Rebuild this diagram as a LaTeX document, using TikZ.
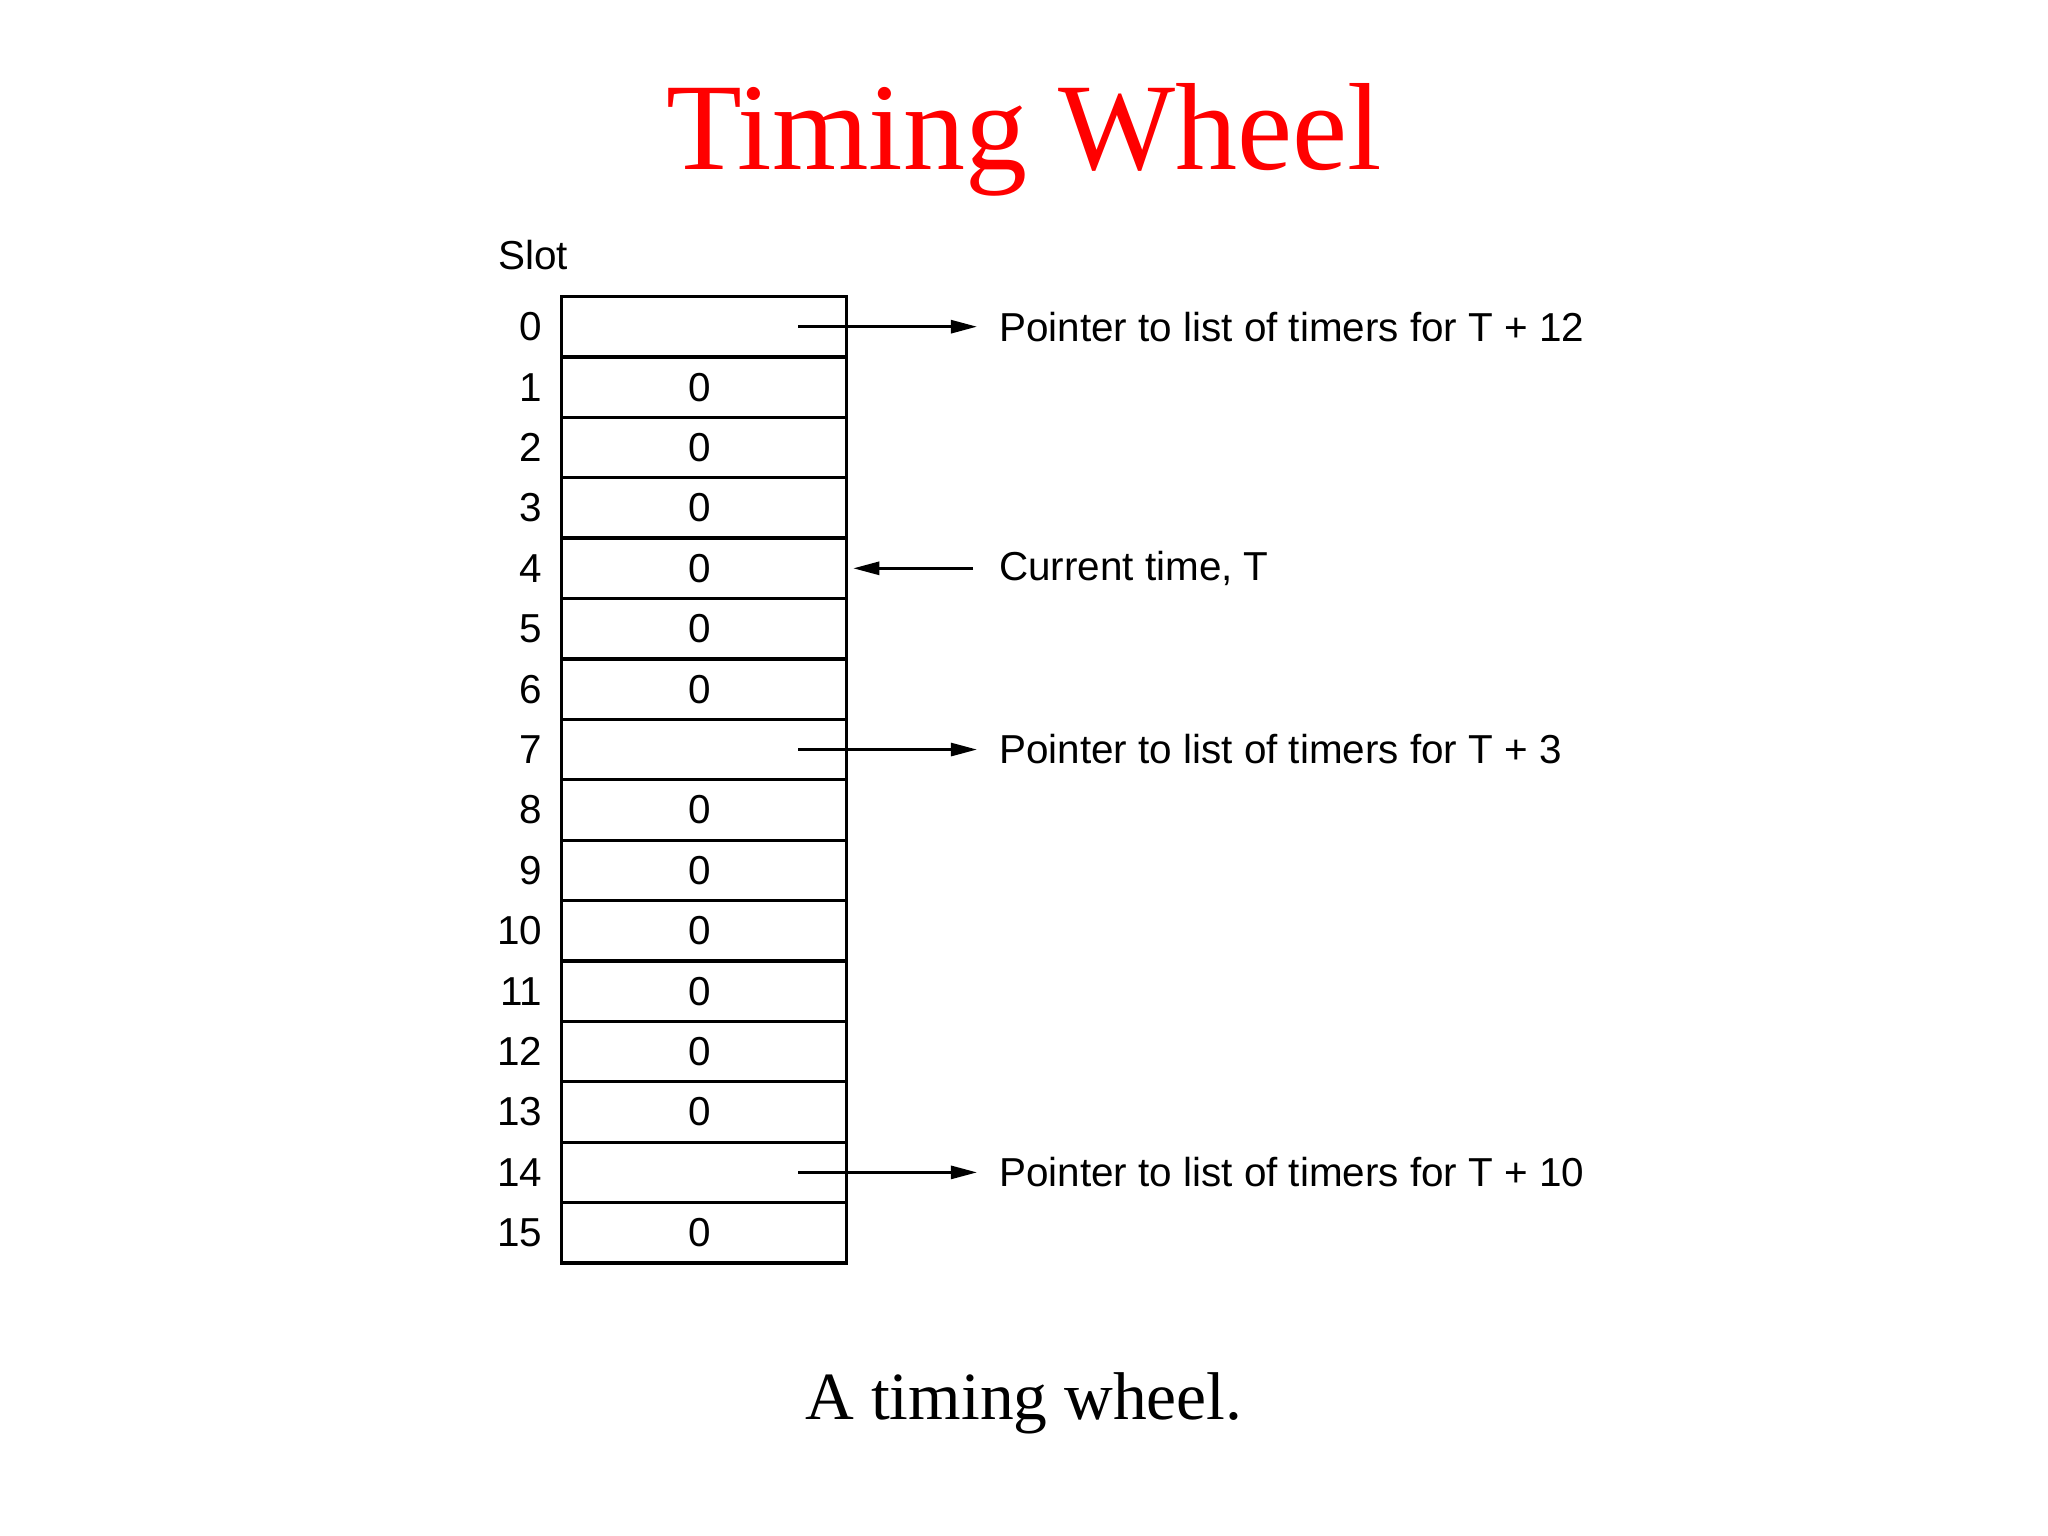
\documentclass[tikz,border=0pt]{standalone}
\usepackage{fontspec}
\setmainfont{Liberation Serif}
\newfontfamily\figfont{Liberation Sans}
\usetikzlibrary{arrows.meta}
\begin{document}
\begin{tikzpicture}[x=0.01cm, y=-0.01cm,
    cell/.style={draw, line width=0.7pt, minimum width=2.18cm, minimum height=0.4625cm, inner sep=0},
    num/.style={inner sep=0, font=\figfont\fontsize{8.8}{10}\selectfont},
    note/.style={inner sep=0, outer sep=0.17cm, anchor=west, font=\figfont\fontsize{8.8}{10}\selectfont},
    ptr/.style={line width=0.6pt, -{Triangle[length=0.2cm, width=0.1cm]}}]
    \useasboundingbox (0,0) rectangle (1568,1176);
    % Title and caption
    \node[text=red, anchor=base, inner sep=0, font=\fontsize{27}{30}\selectfont] (title) at (784,130) {Timing Wheel};
    \node[anchor=base, inner sep=0, font=\fontsize{14.7}{17}\selectfont] (caption) at (784,1087) {A timing wheel.};
    % Slots
    \node[num, anchor=base west] (slot) at (381,206) {Slot};
    \foreach \i in {0,...,15} {
        \node[cell] (c\i) at (539, 250.125+46.25*\i) {};
        \node[num, anchor=east] (s\i) at (416, 250.125+46.25*\i) {\i};
    }
    \foreach \i in {1,2,3,4,5,6,8,9,10,11,12,13,15}
        \node[num] (v\i) at ([xshift=-0.03cm]c\i.center) {0};
    % Pointers
    \node[note] (p0) at (748, 250.125) {Pointer to list of timers for T + 12};
    \node[note] (now) at (748, 435.125) {Current time, T};
    \node[note] (p7) at (748, 573.875) {Pointer to list of timers for T + 3};
    \node[note] (p14) at (748, 897.625) {Pointer to list of timers for T + 10};
    \draw[ptr] ([xshift=-0.38cm]c0.east) -- (p0.west);
    \draw[ptr] ([xshift=-0.38cm]c7.east) -- (p7.west);
    \draw[ptr] ([xshift=-0.38cm]c14.east) -- (p14.west);
    \draw[ptr] ([xshift=-0.03cm]now.west) -- ([xshift=0.04cm]c4.east);
\end{tikzpicture}
\end{document}
